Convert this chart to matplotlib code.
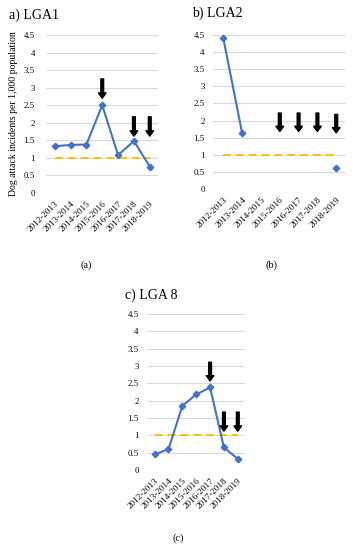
import numpy as np
import matplotlib
matplotlib.use('Agg')
import matplotlib.pyplot as plt

years = ['2012-2013', '2013-2014', '2014-2015', '2015-2016',
         '2016-2017', '2017-2018', '2018-2019']

lga1 = [1.33, 1.37, 1.38, 2.50, 1.08, 1.48, 0.75]
lga2 = [4.40, 1.63, np.nan, np.nan, np.nan, np.nan, 0.60]
lga8 = [0.45, 0.60, 1.85, 2.18, 2.38, 0.65, 0.32]

# arrows: category index, top value, tip value
arrows1 = [(3, 3.25, 2.70), (5, 2.17, 1.62), (6, 2.17, 1.62)]
arrows2 = [(3, 2.22, 1.68), (4, 2.22, 1.68), (5, 2.22, 1.68), (6, 2.18, 1.64)]
arrows8 = [(4, 3.11, 2.57), (5, 1.67, 1.12), (6, 1.67, 1.12)]

threshold = 1.0

plt.rcParams['font.family'] = 'Liberation Serif'

W, H = 353, 550
fig = plt.figure(figsize=(W/100, H/100), dpi=100)


def panel(rect, vals, arrows, title, title_xy, caption, cap_xy, ylabel=None, ypad=6):
    ax = fig.add_axes(rect)
    x = np.arange(len(years))
    ax.set_xlim(-0.55, 6.52)
    ax.set_ylim(0, 4.5)
    ax.set_yticks(np.arange(0, 4.51, 0.5))
    ax.set_yticklabels(['0', '0.5', '1', '1.5', '2', '2.5', '3', '3.5', '4', '4.5'])
    ax.grid(axis='y', color='#d9d9d9', lw=0.8)
    ax.set_axisbelow(True)
    for s in ax.spines.values():
        s.set_visible(False)
    ax.tick_params(length=0)
    ax.tick_params(axis='y', labelsize=6.3, pad=ypad)
    ax.set_xticks(x)
    ax.set_xticklabels(years, rotation=45, ha='right', va='top',
                       rotation_mode='anchor')
    ax.tick_params(axis='x', labelsize=6.6, pad=5)
    ax.plot([x[0], x[-1]], [threshold, threshold], color='#ffc000', lw=1.4,
            dashes=(4, 2.6))
    ax.plot(x, vals, color='#4472c4', lw=1.5, marker='D', ms=3.3,
            clip_on=False)
    for i, top, tip in arrows:
        ax.annotate('', xy=(i, tip), xytext=(i, top),
                    arrowprops=dict(facecolor='black', edgecolor='black',
                                    width=2.0, headwidth=5.5, headlength=3.8,
                                    shrink=0))
    if ylabel:
        ax.set_ylabel(ylabel, fontsize=7, labelpad=4)
    fig.text(title_xy[0]/W, 1 - title_xy[1]/H, title, fontsize=10,
             ha='left', va='center')
    fig.text(cap_xy[0]/W, 1 - cap_xy[1]/H, caption, fontsize=7.5,
             ha='center', va='center')
    return ax


panel([46/W, 1 - 193/H, 112/W, 158/H], lga1, arrows1, 'a) LGA1', (9, 15),
      '(a)', (86, 265), ylabel='Dog attack incidents per 1,000 population',
      ypad=8)
panel([213/W, 1 - 189/H, 133/W, 154/H], lga2, arrows2, 'b) LGA2', (192, 13),
      '(b)', (271, 265))
panel([147/W, 1 - 470/H, 98/W, 156/H], lga8, arrows8, 'c) LGA 8', (125, 295),
      '(c)', (178, 538))

fig.savefig('out.png', dpi=100)
